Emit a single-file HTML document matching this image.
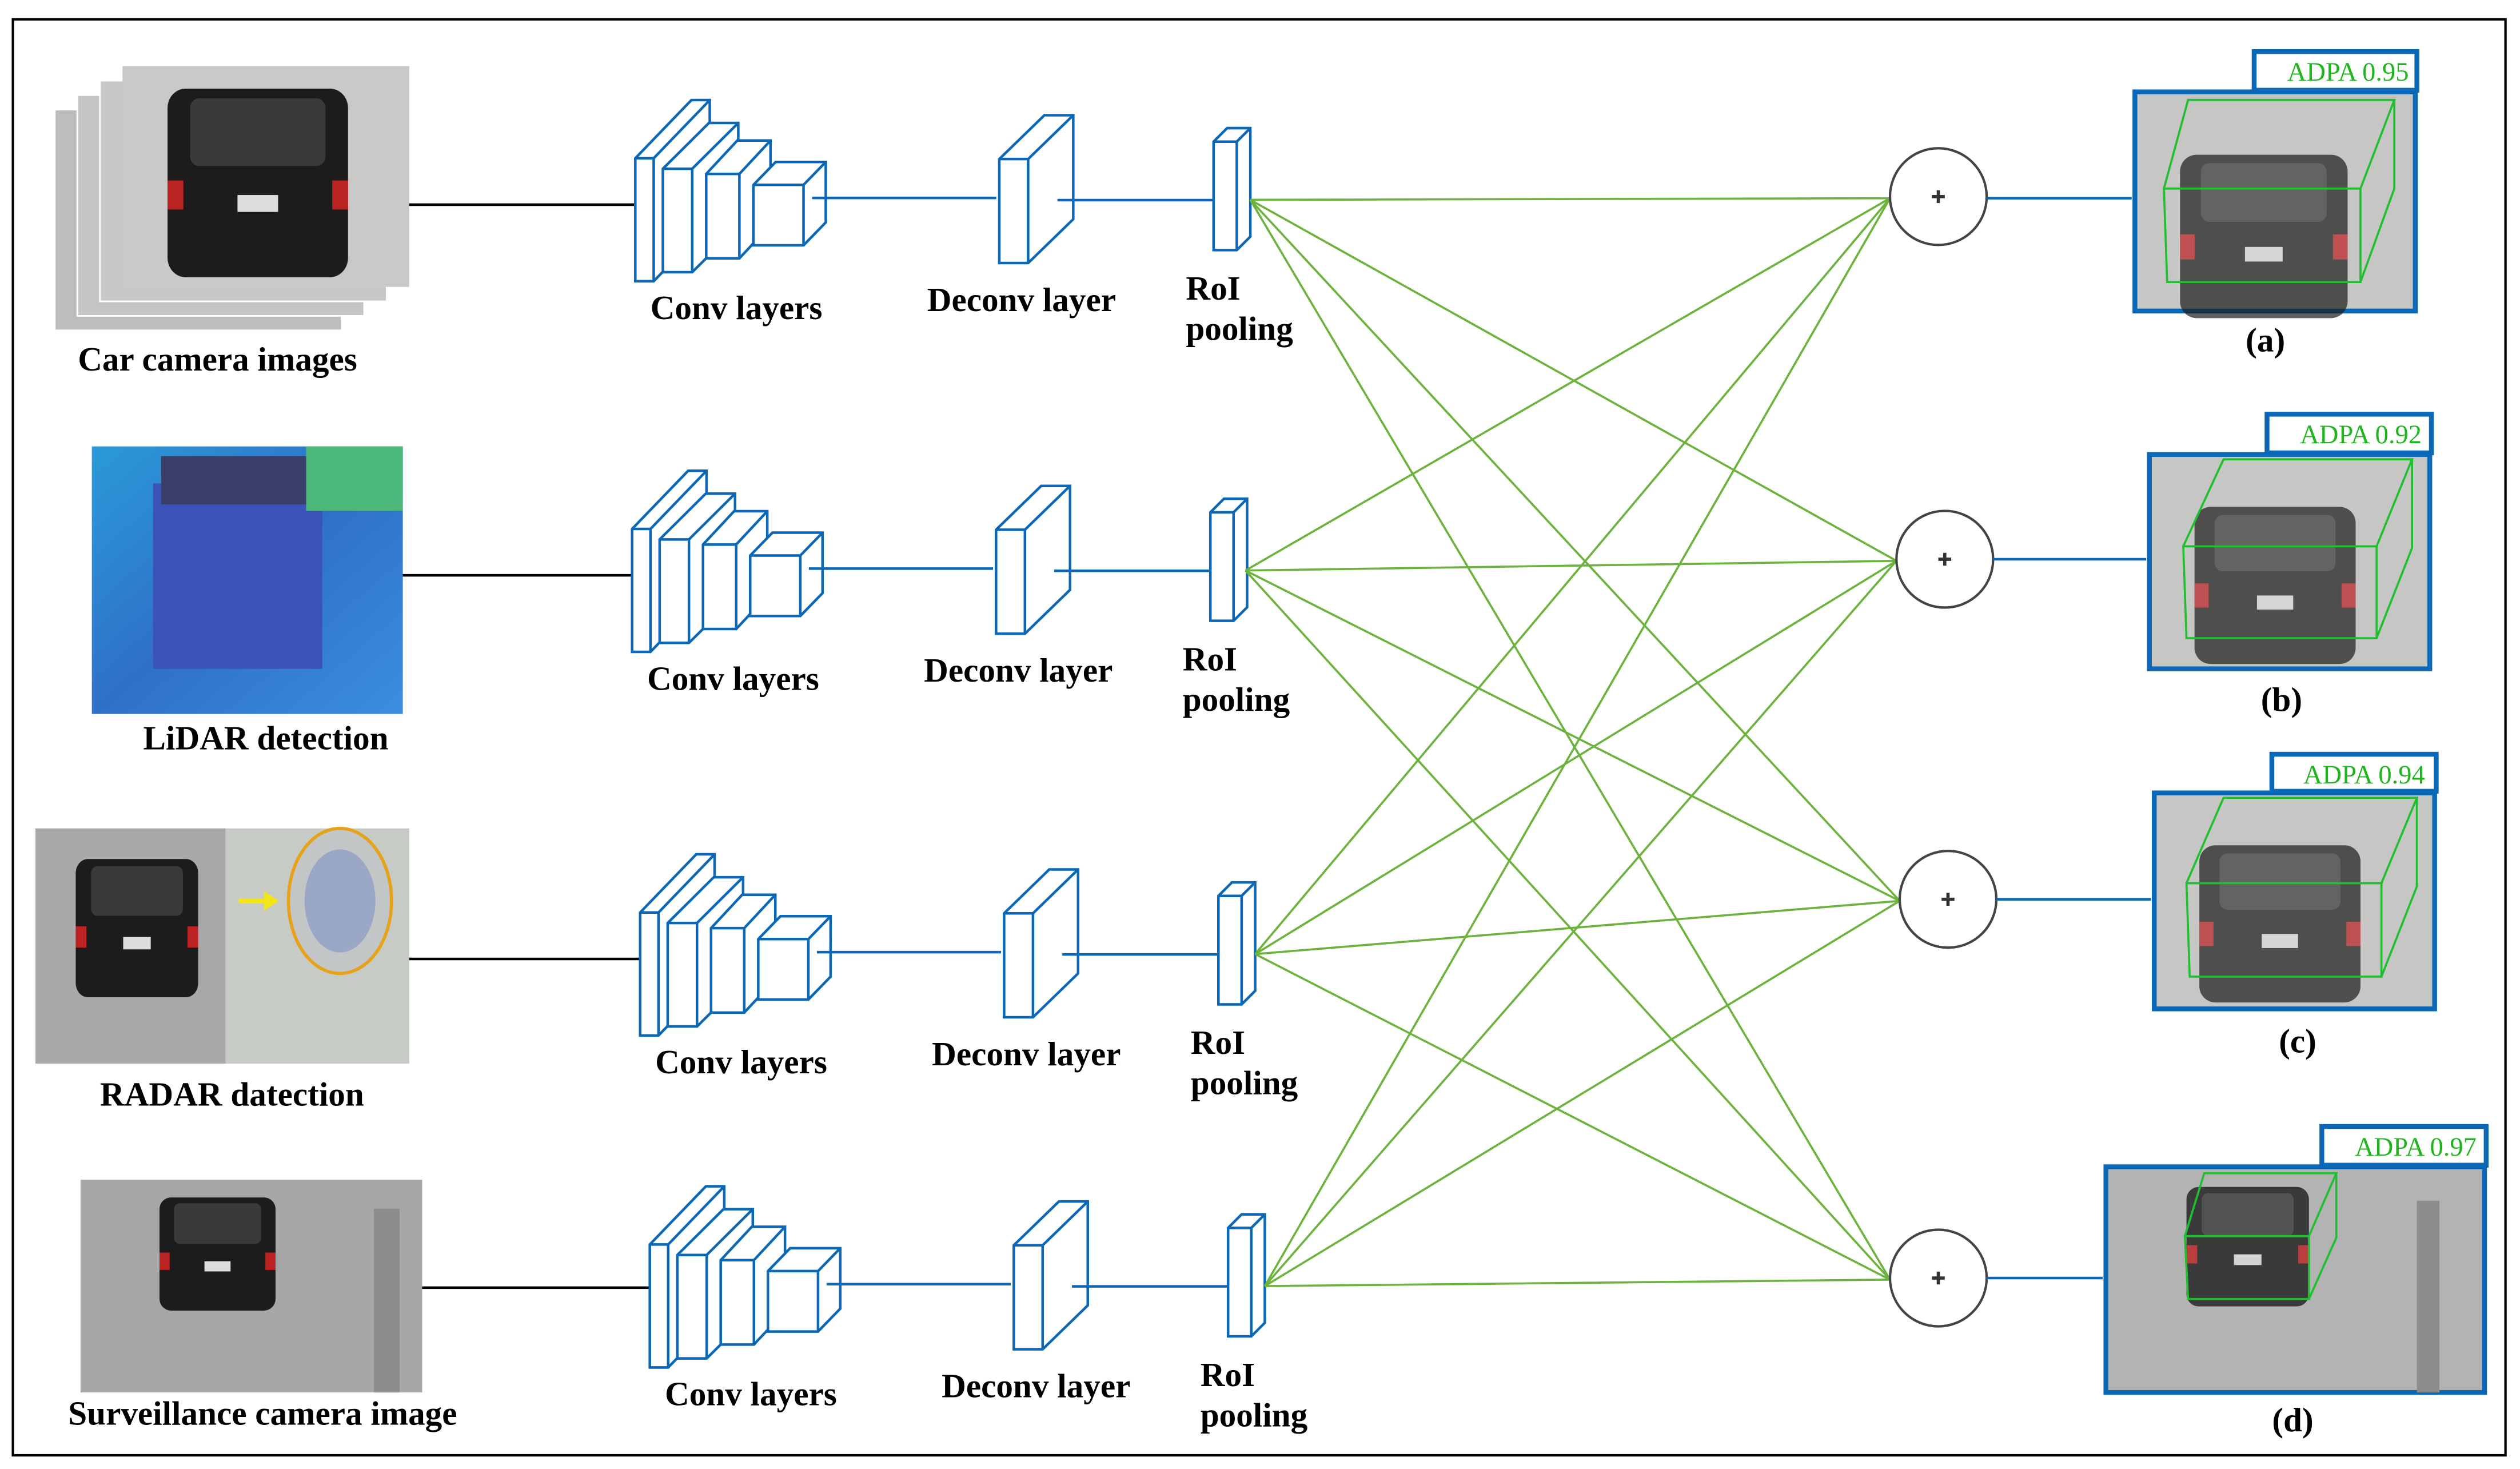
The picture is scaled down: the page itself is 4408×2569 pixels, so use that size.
<!DOCTYPE html>
<html><head><meta charset="utf-8"><style>
html,body{margin:0;padding:0;background:#fff}
svg{display:block}
.lb{font-family:"Liberation Serif",serif;font-weight:bold;font-size:21px;fill:#000}
.ad{font-family:"Liberation Serif",serif;font-size:16.5px;fill:#1fb51f}
</style></head><body>
<svg width="4408" height="2569" viewBox="0 0 1564 911.5" preserveAspectRatio="none" xmlns="http://www.w3.org/2000/svg">
<defs>
<g id="net" fill="#fff" stroke="#0a68b6" stroke-width="1.6">
<polygon points="394.3,98.2 429.1,62.1 440.5,62.1 440.5,138.4 405.7,174.5 394.3,174.5"/><path fill="none" d="M394.3,98.2H405.7V174.5M405.7,98.2L440.5,62.1"/>
<polygon points="411.4,104.7 440,76.3 458.2,76.3 458.2,140.5 429.6,168.9 411.4,168.9"/><path fill="none" d="M411.4,104.7H429.6V168.9M429.6,104.7L458.2,76.3"/>
<polygon points="438.3,107.9 457.6,87.2 478.2,87.2 478.2,139.6 458.9,160.3 438.3,160.3"/><path fill="none" d="M438.3,107.9H458.9V160.3M458.9,107.9L478.2,87.2"/>
<polygon points="467.6,114.7 481.4,100.5 512.5,100.5 512.5,138 498.7,152.2 467.6,152.2"/><path fill="none" d="M467.6,114.7H498.7V152.2M498.7,114.7L512.5,100.5"/>
<polygon points="620.2,98.7 648.2,71.5 666.1,71.5 666.1,136 638.1,163.2 620.2,163.2"/><path fill="none" d="M620.2,98.7H638.1V163.2M638.1,98.7L666.1,71.5"/>
<polygon points="753.2,87.9 761.6,79.5 776,79.5 776,146.8 767.6,155.2 753.2,155.2"/><path fill="none" d="M753.2,87.9H767.6V155.2M767.6,87.9L776,79.5"/>
<path fill="none" d="M504,122.8H618.3M656.3,124.2H752.7"/>
</g>
<g id="car">
<rect x="-40" y="-30" width="80" height="78" rx="8" fill="#1c1c1c"/>
<rect x="-30" y="-26" width="60" height="28" rx="4" fill="#3a3a3a"/>
<rect x="-9" y="14" width="18" height="7" fill="#ddd"/>
<rect x="-40" y="8" width="7" height="12" fill="#b22"/><rect x="33" y="8" width="7" height="12" fill="#b22"/>
</g>
</defs>
<rect x="8" y="12" width="1547" height="891" fill="none" stroke="#000" stroke-width="1.5"/>

<g stroke="#fff" stroke-width="1">
<rect x="34" y="68" width="178" height="137" fill="#bdbdbd"/>
<rect x="48" y="59" width="178" height="137" fill="#c4c4c4"/>
<rect x="62" y="50" width="178" height="137" fill="#c8c8c8"/>
</g>
<rect x="76" y="41" width="178" height="137" fill="#c9c9c7"/>
<use href="#car" transform="translate(160,100) scale(1.4,1.5)"/>
<defs><linearGradient id="ld" x1="0" y1="0" x2="1" y2="1"><stop offset="0" stop-color="#2a9ad8"/><stop offset="0.5" stop-color="#2f70c8"/><stop offset="1" stop-color="#3a8ee0"/></linearGradient></defs>
<rect x="57" y="277" width="193" height="166" fill="url(#ld)"/>
<rect x="95" y="300" width="105" height="115" fill="#3b52b8"/>
<rect x="100" y="283" width="110" height="30" fill="#3a3f6a"/>
<rect x="190" y="277" width="60" height="40" fill="#4bb87a"/>
<rect x="22" y="514" width="118" height="146" fill="#a9a9a9"/>
<use href="#car" transform="translate(85,566) scale(0.95,1.1)"/>
<rect x="140" y="514" width="114" height="146" fill="#c6cbc6"/>
<ellipse cx="211" cy="559" rx="32" ry="45" fill="#c2c6c6" stroke="#e8a21a" stroke-width="2"/>
<ellipse cx="211" cy="559" rx="22" ry="32" fill="#9aa8c6"/>
<path d="M148,559H166" stroke="#f2e616" stroke-width="3"/><polygon points="164,553 173,559 164,565" fill="#f2e616"/>
<rect x="50" y="732" width="212" height="132" fill="#a7a7a7"/>
<use href="#car" transform="translate(135,770) scale(0.9)"/>
<rect x="232" y="750" width="16" height="114" fill="#8d8d8d"/>

<g class="lb" text-anchor="middle">
<text x="135" y="230">Car camera images</text>
<text x="165" y="465">LiDAR detection</text>
<text x="144" y="686">RADAR datection</text>
<text x="163" y="884">Surveillance camera image</text>
</g>

<g stroke="#000" stroke-width="1.6">
<path d="M254,127H395M250,357H393M254,595H398M262,799H404"/>
</g>

<use href="#net"/>
<use href="#net" transform="translate(-2,230)"/>
<use href="#net" transform="translate(3,468)"/>
<use href="#net" transform="translate(9,674)"/>
<g class="lb">
<text x="457" y="198" text-anchor="middle">Conv layers</text>
<text x="634" y="193" text-anchor="middle">Deconv layer</text>
<text x="736" y="186">RoI</text><text x="736" y="211">pooling</text>
<text x="455" y="428" text-anchor="middle">Conv layers</text>
<text x="632" y="423" text-anchor="middle">Deconv layer</text>
<text x="734" y="416">RoI</text><text x="734" y="441">pooling</text>
<text x="460" y="666" text-anchor="middle">Conv layers</text>
<text x="637" y="661" text-anchor="middle">Deconv layer</text>
<text x="739" y="654">RoI</text><text x="739" y="679">pooling</text>
<text x="466" y="872" text-anchor="middle">Conv layers</text>
<text x="643" y="867" text-anchor="middle">Deconv layer</text>
<text x="745" y="860">RoI</text><text x="745" y="885">pooling</text>
</g>

<g stroke="#6cb33e" stroke-width="1.3">
<path d="M776,124L1173,123M776,124L1177,348M776,124L1179,559M776,124L1173,794"/>
<path d="M773,354L1173,123M773,354L1177,348M773,354L1179,559M773,354L1173,794"/>
<path d="M779,592L1173,123M779,592L1177,348M779,592L1179,559M779,592L1173,794"/>
<path d="M785,798L1173,123M785,798L1177,348M785,798L1179,559M785,798L1173,794"/>
</g>

<g fill="#fff" stroke="#444" stroke-width="1.5">
<circle cx="1203" cy="122" r="30"/><circle cx="1207" cy="347" r="30"/>
<circle cx="1209" cy="558" r="30"/><circle cx="1203" cy="793" r="30"/>
</g>
<g stroke="#333" stroke-width="2">
<path d="M1199,122h8M1203,118v8M1203,347h8M1207,343v8M1205,558h8M1209,554v8M1199,793h8M1203,789v8"/>
</g>
<g stroke="#0a68b6" stroke-width="1.6">
<path d="M1233,123H1323M1237,347H1332M1239,558H1335M1233,793H1305"/>
</g>

<g>
<rect x="1325" y="57" width="174" height="136" fill="#c6c6c4" stroke="#0a68b6" stroke-width="3"/>
<use href="#car" transform="translate(1405,135) scale(1.3,1.3)" opacity="0.7"/>
<rect x="1399" y="32" width="101" height="24" fill="#fff" stroke="#0a68b6" stroke-width="3"/>
<text class="ad" x="1495" y="50" text-anchor="end">ADPA 0.95</text>
<path d="M1343,117H1465V175H1345ZM1343,117L1358,62H1486L1465,117M1486,62V117L1465,175" fill="none" stroke="#1fbf30" stroke-width="1.3"/>
<text class="lb" x="1406" y="218" text-anchor="middle">(a)</text>

<rect x="1334" y="282" width="174" height="133" fill="#c6c6c4" stroke="#0a68b6" stroke-width="3"/>
<use href="#car" transform="translate(1412,352) scale(1.25)" opacity="0.7"/>
<rect x="1407" y="257" width="102" height="24" fill="#fff" stroke="#0a68b6" stroke-width="3"/>
<text class="ad" x="1503" y="275" text-anchor="end">ADPA 0.92</text>
<path d="M1355,339H1475V396H1357ZM1355,339L1380,285H1497L1475,339M1497,285V340L1475,396" fill="none" stroke="#1fbf30" stroke-width="1.3"/>
<text class="lb" x="1416" y="441" text-anchor="middle">(b)</text>

<rect x="1337" y="492" width="174" height="134" fill="#c6c6c4" stroke="#0a68b6" stroke-width="3"/>
<use href="#car" transform="translate(1415,562) scale(1.25)" opacity="0.7"/>
<rect x="1410" y="468" width="102" height="23" fill="#fff" stroke="#0a68b6" stroke-width="3"/>
<text class="ad" x="1505" y="486" text-anchor="end">ADPA 0.94</text>
<path d="M1357,548H1478V606H1359ZM1357,548L1380,495H1500L1478,548M1500,495V550L1478,606" fill="none" stroke="#1fbf30" stroke-width="1.3"/>
<text class="lb" x="1426" y="653" text-anchor="middle">(c)</text>

<rect x="1307" y="724" width="235" height="140" fill="#b3b3b3" stroke="#0a68b6" stroke-width="3"/>
<use href="#car" transform="translate(1395,765) scale(0.95)" opacity="0.8"/>
<rect x="1500" y="745" width="14" height="119" fill="#8d8d8d"/>
<rect x="1441" y="699" width="102" height="24" fill="#fff" stroke="#0a68b6" stroke-width="3"/>
<text class="ad" x="1537" y="717" text-anchor="end">ADPA 0.97</text>
<path d="M1356,767H1433V806H1358ZM1356,767L1368,728H1450L1433,767M1450,728V768L1433,806" fill="none" stroke="#1fbf30" stroke-width="1.3"/>
<text class="lb" x="1423" y="888" text-anchor="middle">(d)</text>
</g>
</svg>
</body></html>
